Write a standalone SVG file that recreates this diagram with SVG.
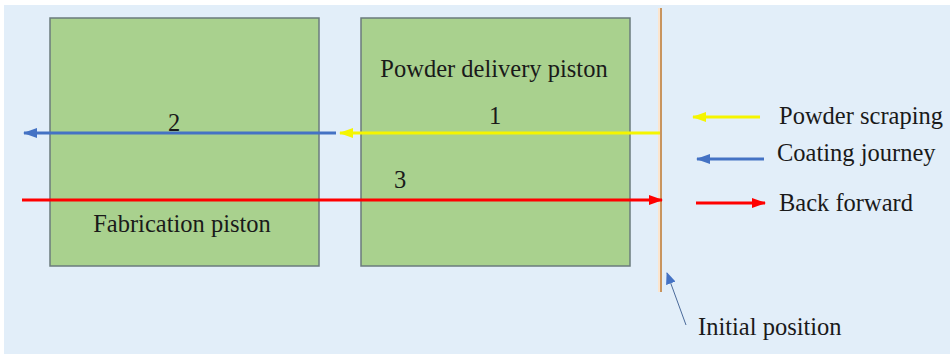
<svg xmlns="http://www.w3.org/2000/svg" width="950" height="354" viewBox="0 0 950 354">
<style>
.box{fill:#a9d18e;stroke:#6b7b7c;stroke-width:1.5}
text{font-family:'Liberation Serif','DejaVu Serif',serif;font-size:24.5px;fill:#1a1a1a}
</style>
<defs>
<marker id="ab" markerWidth="14" markerHeight="10" refX="13" refY="5" orient="auto" markerUnits="userSpaceOnUse"><path d="M0,0 L14,5 L0,10 Z" fill="#4472c4"/></marker>
<marker id="ar" markerWidth="14" markerHeight="10" refX="13" refY="5" orient="auto" markerUnits="userSpaceOnUse"><path d="M0,0 L14,5 L0,10 Z" fill="#ff0000"/></marker>
<marker id="ayl" markerWidth="14" markerHeight="10" refX="13" refY="5" orient="auto" markerUnits="userSpaceOnUse"><path d="M0,0 L14,5 L0,10 Z" fill="#f5f500"/></marker>
<marker id="ai" markerWidth="12" markerHeight="10" refX="11" refY="5" orient="auto" markerUnits="userSpaceOnUse"><path d="M0,0 L12,5 L0,10 Z" fill="#4472c4"/></marker>
</defs>
<rect width="950" height="354" fill="#ffffff"/>
<rect x="4" y="5" width="946" height="349" fill="#e2eef9"/>
<g id="fabrication-piston">
<rect class="box" x="50" y="18" width="269" height="248"/>
<text x="182" y="232" text-anchor="middle">Fabrication piston</text>
</g>
<g id="powder-delivery-piston">
<rect class="box" x="361" y="18" width="269" height="248"/>
<text x="494" y="77" text-anchor="middle">Powder delivery piston</text>
</g>
<g id="initial-position">
<line x1="659" y1="8" x2="659" y2="292" stroke="#fbe5cf" stroke-width="2"/>
<line x1="661" y1="8" x2="661" y2="292" stroke="#c8945e" stroke-width="2"/>
<text x="698" y="335">Initial position</text>
</g>
<g id="connectors">
<line x1="660" y1="133" x2="340" y2="133" stroke="#f5f500" stroke-width="3" marker-end="url(#ayl)"/>
<line x1="336" y1="133" x2="24" y2="133" stroke="#4472c4" stroke-width="3" marker-end="url(#ab)"/>
<line x1="22" y1="200" x2="662" y2="200" stroke="#ff0000" stroke-width="3" marker-end="url(#ar)"/>
<line x1="686" y1="325" x2="667" y2="273" stroke="#4a6a9a" stroke-width="1" marker-end="url(#ai)"/>
<text x="495" y="124" text-anchor="middle">1</text>
<text x="174" y="131" text-anchor="middle">2</text>
<text x="400" y="188" text-anchor="middle">3</text>
</g>
<g id="legend">
<line x1="760" y1="117" x2="693" y2="117" stroke="#f5f500" stroke-width="3" marker-end="url(#ayl)"/>
<text x="779" y="124">Powder scraping</text>
<line x1="764" y1="159" x2="697" y2="159" stroke="#4472c4" stroke-width="3" marker-end="url(#ab)"/>
<text x="777" y="161">Coating journey</text>
<line x1="696" y1="203" x2="765" y2="203" stroke="#ff0000" stroke-width="3" marker-end="url(#ar)"/>
<text x="779" y="211">Back forward</text>
</g>
</svg>
